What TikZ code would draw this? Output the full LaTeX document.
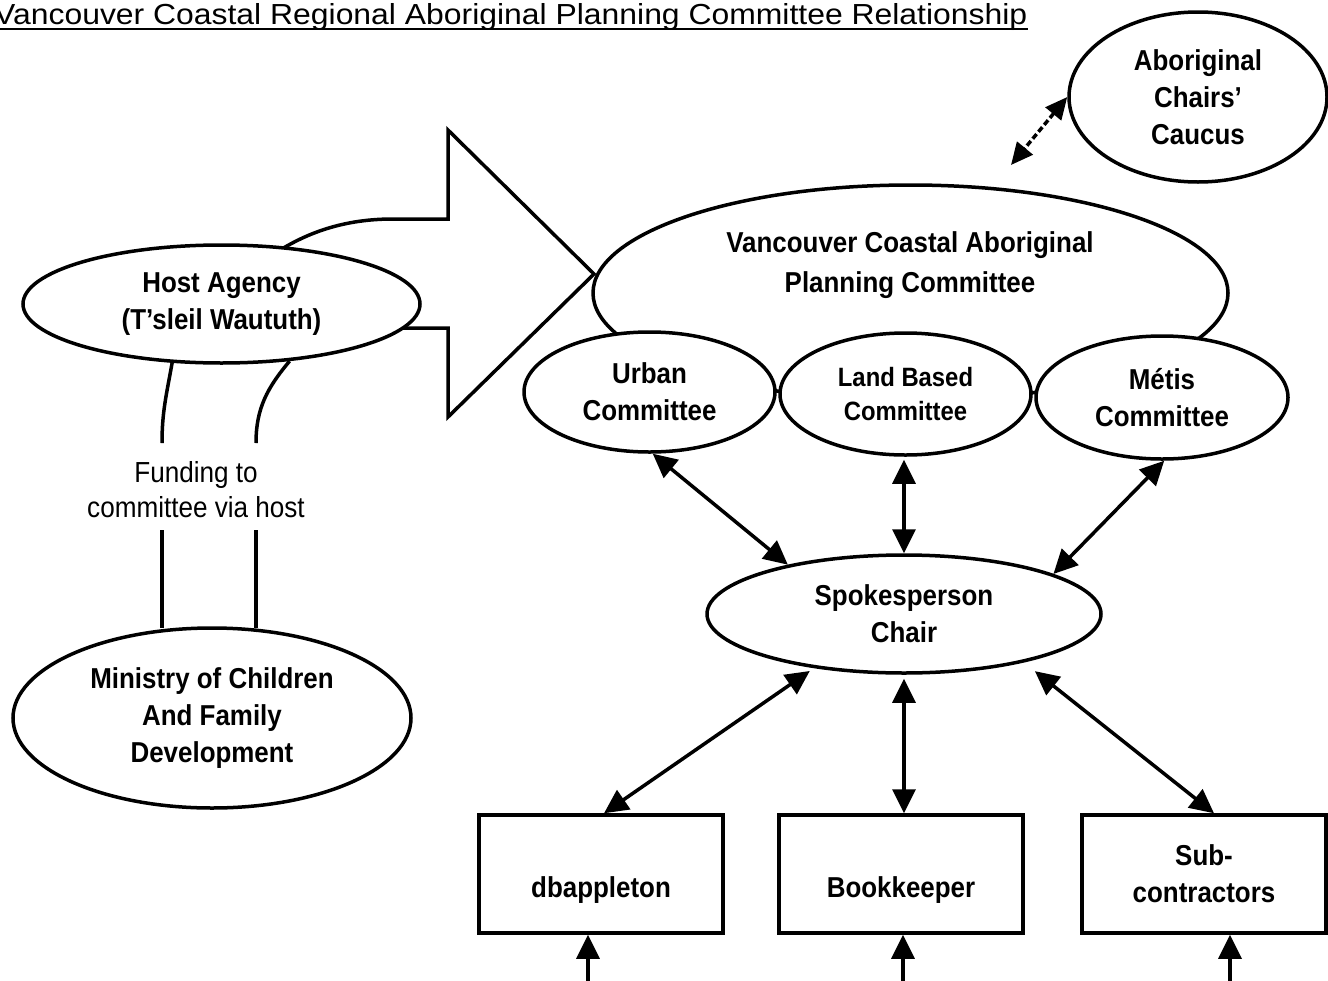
\documentclass[tikz,border=0pt]{standalone}
\usepackage{fontspec}
\setmainfont{Liberation Sans}[FakeStretch=0.9]
\newfontfamily\titlefont{Liberation Sans}
\usetikzlibrary{arrows.meta,shapes.geometric}
\newcommand\mybf{\fontsize{28.8}{37}\selectfont\bfseries}
\newcommand\mybfsmall{\fontsize{26.5}{34}\selectfont\bfseries}
\newcommand\myrg{\fontsize{29}{35}\selectfont}
\begin{document}
\begin{tikzpicture}[x=1pt,y=-1pt,
  every node/.style={inner sep=0pt},
  ell/.style={ellipse, draw, fill=white, line width=3.5pt, align=center, font=\mybf},
  rbox/.style={rectangle, draw, fill=white, line width=3.5pt, align=center, font=\mybf,
    minimum width=244pt, minimum height=118pt},
  onetext/.style={text height=46pt, text depth=0pt},
  shape line/.style={line width=3.5pt},
  biarr/.style={line width=3.5pt, {Triangle[length=24pt,width=23pt]}-{Triangle[length=24pt,width=23pt]}},
  uparr/.style={line width=3.5pt, -{Triangle[length=24pt,width=23pt]}},
  dasharr/.style={line width=3.5pt, dash pattern=on 6pt off 3pt,
    {Triangle[length=22pt,width=20pt]}-{Triangle[length=22pt,width=20pt]}}]
\useasboundingbox (0,0) rectangle (1328,980);

% title
\node[anchor=base west, font={\titlefont\fontsize{29}{29}\selectfont}] (title) at (-6,24)
  {\scalebox{1.1}[1]{Vancouver Coastal Regional Aboriginal Planning Committee Relationship}};
\draw[line width=2pt] ([yshift=-4.5pt]title.base west) -- ([yshift=-4.5pt]title.base east);

% big arrow (behind host agency)
\draw[shape line, fill=white, line join=miter]
  (268,258) .. controls (305,232) and (345,219) .. (393,219) -- (448,219) -- (448,130)
  -- (594,274) -- (448,417) -- (448,328) -- (385,328) -- cycle;

% nodes
\node[ell, minimum width=258pt, minimum height=170pt] (caucus) at (1198,97)
  {Aboriginal\\Chairs’\\Caucus};
\coordinate (dashend) at (1011,165);

\node[ell, minimum width=635pt, minimum height=216pt] (vcapc) at (910.5,293) {};
\node[font={\fontsize{28.8}{40}\selectfont\bfseries}, align=center] (vcapct) at (910,265)
  {Vancouver Coastal Aboriginal\\Planning Committee};

\node[ell, minimum width=397pt, minimum height=118pt] (host) at (221.5,304)
  {Host Agency\\(T’sleil Waututh)};

\node[ell, minimum width=251pt, minimum height=120pt] (urban) at (649.5,392) {Urban\\Committee};
\node[ell, minimum width=251pt, minimum height=122pt, font=\mybfsmall] (land) at (905.5,394)
  {Land Based\\Committee};
\node[ell, minimum width=252pt, minimum height=123pt] (metis) at (1162,397.5) {Métis\\Committee};

\node[ell, minimum width=394pt, minimum height=118pt] (spokes) at (904,614) {Spokesperson\\Chair};

\node[rbox, onetext] (dbapp) at (601,874) {dbappleton};
\node[rbox, onetext] (book) at (901,874) {Bookkeeper};
\node[rbox] (sub) at (1204,874) {Sub-\\contractors};

\node[ell, minimum width=398pt, minimum height=180pt] (mcfd) at (212,718)
  {Ministry of Children\\And Family\\Development};

% funding lines
\coordinate (f1t) at (162,443);
\coordinate (f2t) at (256,443);
\coordinate (f1b) at (162,530);
\coordinate (f2b) at (256,530);
\draw[shape line] (host.-130) to[out=-100, in=90] (f1t);
\draw[shape line] (host.-40) to[out=-130, in=90] (f2t);
\draw[shape line, shorten >=-2pt] (f1b) -- (f1b |- mcfd.north);
\draw[shape line, shorten >=-2pt] (f2b) -- (f2b |- mcfd.north);
\node[font=\myrg, align=center] (fundlbl) at (196,490) {Funding to\\committee via host};

% connectors
\draw[dasharr] (caucus.west) -- (dashend);
\draw[biarr] (urban.-87) -- (spokes.157);
\draw[biarr, shorten <=3pt] (land.south -| spokes.north) -- (spokes.north);
\draw[biarr] (metis.-88) -- (spokes.15);
\draw[biarr, shorten <=5pt] (spokes.211) -- ([xshift=3pt]dbapp.north);
\draw[biarr, shorten <=4pt] (spokes.south) -- (spokes.south |- book.north);
\draw[biarr, shorten <=14pt] (spokes.-22) -- ([xshift=10pt]sub.north);

\coordinate (bd1) at (588,992);
\coordinate (bd2) at (903,992);
\coordinate (bd3) at (1230,992);
\draw[uparr] (bd1) -- (bd1 |- dbapp.south);
\draw[uparr] (bd2) -- (bd2 |- book.south);
\draw[uparr] (bd3) -- (bd3 |- sub.south);
\end{tikzpicture}
\end{document}
